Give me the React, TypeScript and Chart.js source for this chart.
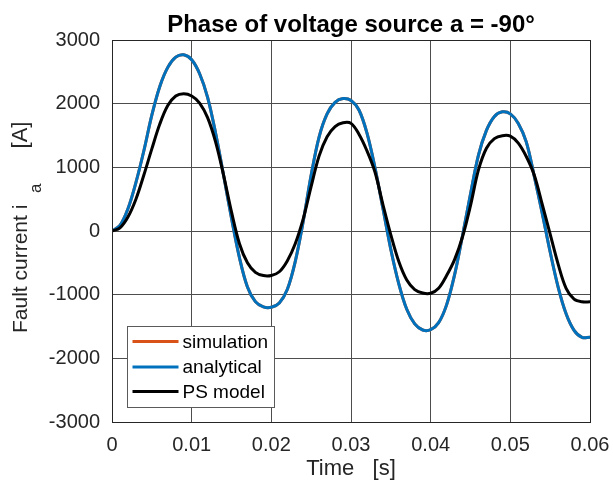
import React, { useEffect, useRef } from "react";
import { Chart, registerables } from "chart.js";

Chart.register(...registerables);

const FONT = '"Liberation Sans", Arial, Helvetica, sans-serif';

const chartTitle = "Phase of voltage source a = -90°";
const xTitle = "Time   [s]";
const yTitleMain = "Fault current i";
const yTitleSub = "a";
const yTitleUnit = "[A]";

const seriesLabels = ["simulation", "analytical", "PS model"];
const seriesColors = ["#D95319", "#0072BD", "#000000"];

const xTicks = [0, 0.01, 0.02, 0.03, 0.04, 0.05, 0.06];
const yTicks = [-3000, -2000, -1000, 0, 1000, 2000, 3000];

const timeS = [
  0, 0.001, 0.002, 0.003, 0.004, 0.005, 0.006, 0.007, 0.008, 0.009,
  0.01, 0.011, 0.012, 0.013, 0.014, 0.015, 0.016, 0.017, 0.018, 0.019,
  0.02, 0.021, 0.022, 0.023, 0.024, 0.025, 0.026, 0.027, 0.028, 0.029,
  0.03, 0.031, 0.032, 0.033, 0.034, 0.035, 0.036, 0.037, 0.038, 0.039,
  0.04, 0.041, 0.042, 0.043, 0.044, 0.045, 0.046, 0.047, 0.048, 0.049,
  0.05, 0.051, 0.052, 0.053, 0.054, 0.055, 0.056, 0.057, 0.058, 0.059,
  0.06,
];

const analytical = [
  0, 88, 350, 760, 1260, 1820, 2270, 2570, 2730, 2767,
  2690, 2470, 2100, 1540, 880, 200, -420, -880, -1110, -1192,
  -1198, -1130, -920, -480, 150, 880, 1480, 1840, 2020, 2080,
  2050, 1900, 1540, 1000, 360, -290, -830, -1230, -1460, -1555,
  -1550, -1440, -1160, -690, -70, 580, 1190, 1580, 1800, 1872,
  1840, 1690, 1400, 860, 280, -330, -880, -1300, -1560, -1670,
  -1668,
];

const simulation = [
  0, 88, 350, 760, 1260, 1820, 2270, 2570, 2730, 2767,
  2690, 2470, 2100, 1540, 880, 200, -420, -880, -1110, -1192,
  -1198, -1130, -920, -480, 150, 880, 1480, 1840, 2020, 2080,
  2050, 1900, 1540, 1000, 360, -290, -830, -1230, -1460, -1555,
  -1550, -1440, -1160, -690, -70, 580, 1190, 1580, 1800, 1872,
  1840, 1690, 1400, 860, 280, -330, -880, -1300, -1560, -1670,
  -1668,
];

const psModel = [
  0, 50, 220, 500, 880, 1290, 1680, 1970, 2120, 2155,
  2120, 2010, 1780, 1400, 880, 300, -200, -500, -650, -700,
  -698, -640, -470, -200, 190, 700, 1180, 1480, 1640, 1700,
  1690, 1520, 1260, 930, 420, -60, -480, -770, -920, -975,
  -978, -900, -700, -450, -90, 400, 960, 1300, 1450, 1497,
  1490, 1380, 1170, 880, 420, -50, -520, -900, -1070, -1112,
  -1112,
];

const toPoints = (ys: number[]) => timeS.map((t, i) => ({ x: t, y: ys[i] }));

const overlayPlugin = {
  id: "overlay",
  afterDraw(chart: any) {
    const { ctx, chartArea: a } = chart;
    ctx.save();

    // axes box
    ctx.strokeStyle = "#262626";
    ctx.lineWidth = 1;
    ctx.strokeRect(a.left + 0.5, a.top + 0.5, a.right - a.left, a.bottom - a.top);

    // title
    ctx.fillStyle = "#000000";
    ctx.font = `bold 24px ${FONT}`;
    ctx.textAlign = "center";
    ctx.textBaseline = "alphabetic";
    ctx.fillText(chartTitle, (a.left + a.right) / 2, 32);

    // x title
    ctx.fillStyle = "#262626";
    ctx.font = `22px ${FONT}`;
    ctx.fillText(xTitle, (a.left + a.right) / 2, 475);

    // y title (rotated)
    ctx.save();
    ctx.translate(27, 333);
    ctx.rotate(-Math.PI / 2);
    ctx.textAlign = "left";
    ctx.font = `21px ${FONT}`;
    ctx.fillText(yTitleMain, 0, 0);
    ctx.font = `17px ${FONT}`;
    ctx.fillText(yTitleSub, 140, 14);
    ctx.font = `22px ${FONT}`;
    ctx.textAlign = "center";
    ctx.fillText(yTitleUnit, 198, 0);
    ctx.restore();

    // legend
    const bx = a.left + 15.5;
    const by = a.top + 286.5;
    const bw = 147;
    const bh = 81;
    ctx.fillStyle = "#ffffff";
    ctx.fillRect(bx, by, bw, bh);
    ctx.strokeStyle = "#5a5a5a";
    ctx.lineWidth = 1;
    ctx.strokeRect(bx, by, bw, bh);
    ctx.font = `19px ${FONT}`;
    ctx.textAlign = "left";
    ctx.textBaseline = "middle";
    const rows = [15, 40.5, 65];
    chart.data.datasets.forEach((ds: any, i: number) => {
      const y = by + rows[i];
      ctx.strokeStyle = ds.borderColor;
      ctx.lineWidth = 3;
      ctx.beginPath();
      ctx.moveTo(bx + 5, y);
      ctx.lineTo(bx + 51, y);
      ctx.stroke();
      ctx.fillStyle = "#000000";
      ctx.fillText(ds.label, bx + 55, y + 1);
    });

    ctx.restore();
  },
};

export default function App() {
  const canvasRef = useRef<HTMLCanvasElement | null>(null);

  useEffect(() => {
    document.body.style.margin = "0";
    const canvas = canvasRef.current;
    if (!canvas) return;
    const series = [simulation, analytical, psModel];
    const chart = new Chart(canvas, {
      type: "line",
      data: {
        datasets: series.map((ys, i) => ({
          label: seriesLabels[i],
          data: toPoints(ys),
          borderColor: seriesColors[i],
          backgroundColor: seriesColors[i],
          borderWidth: 3,
          pointRadius: 0,
          fill: false,
          tension: 0.35,
          order: 2 - i,
        })),
      },
      options: {
        responsive: false,
        animation: false,
        devicePixelRatio: 1,
        layout: { padding: { top: 40, right: 23, left: 0, bottom: 0 } },
        plugins: {
          legend: { display: false },
          title: { display: false },
          tooltip: { enabled: false },
        },
        scales: {
          x: {
            type: "linear",
            min: 0,
            max: 0.06,
            afterBuildTicks: (s: any) => {
              s.ticks = xTicks.map((v) => ({ value: v }));
            },
            afterFit: (s: any) => {
              s.height = 67;
              s.paddingLeft = 0;
              s.paddingRight = 0;
            },
            grid: { color: "#4d4d4d", lineWidth: 1, drawTicks: false },
            border: { display: false },
            ticks: {
              padding: 11,
              color: "#262626",
              font: { family: FONT, size: 20 },
              maxRotation: 0,
              callback: (v: any) => String(Math.round(Number(v) * 100) / 100),
            },
          },
          y: {
            type: "linear",
            min: -3000,
            max: 3000,
            afterBuildTicks: (s: any) => {
              s.ticks = yTicks.map((v) => ({ value: v }));
            },
            afterFit: (s: any) => {
              s.width = 112;
              s.paddingTop = 0;
              s.paddingBottom = 0;
            },
            grid: { color: "#4d4d4d", lineWidth: 1, drawTicks: false },
            border: { display: false },
            ticks: {
              padding: 12,
              color: "#262626",
              font: { family: FONT, size: 20 },
              callback: (v: any) => String(v),
            },
          },
        },
      },
      plugins: [overlayPlugin],
    });
    return () => chart.destroy();
  }, []);

  return (
    <div style={{ position: "fixed", left: 0, top: 0, width: 613, height: 489, background: "#ffffff" }}>
      <canvas ref={canvasRef} width={613} height={489} />
    </div>
  );
}
